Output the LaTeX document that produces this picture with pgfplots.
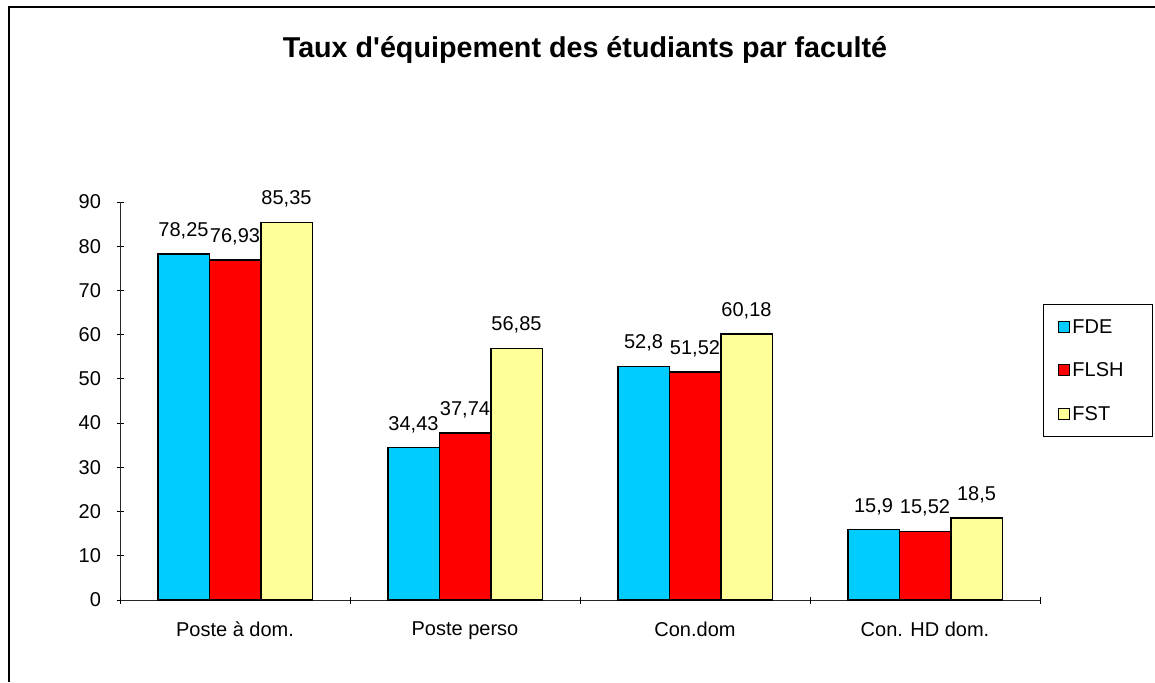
\documentclass[border=0pt]{standalone}
\usepackage{pgfplots}
\pgfplotsset{compat=1.18}
\usepackage{fontspec}
\setmainfont{Liberation Sans}
\definecolor{cFDE}{RGB}{0,204,255}
\definecolor{cFLSH}{RGB}{255,0,0}
\definecolor{cFST}{RGB}{255,255,153}
\newcommand{\lbl}{\fontsize{20}{23}\selectfont}
\begin{document}
\begin{tikzpicture}[x=1pt,y=1pt]
\path[use as bounding box] (0,0) rectangle (1155,682);
\draw[line width=1.5pt] (9,0) -- (9,675) -- (1155,675);
\node[font=\bfseries\fontsize{28.7}{32}\selectfont] at (585,632) {Taux d\textquotesingle équipement des étudiants par faculté};
\begin{axis}[
  at={(120pt,82pt)}, anchor=south west,
  scale only axis, width=920pt, height=398pt,
  ybar=0pt, bar width=51.5pt,
  xmin=-0.5, xmax=3.5, ymin=0, ymax=90,
  ytick={0,10,...,90},
  xtick={0,1,2,3},
  xticklabels={Poste à dom.,Poste perso,Con.dom,Con. HD dom.},
  extra x ticks={-0.5,0.5,1.5,2.5,3.5},
  extra x tick labels={},
  xtick style={draw=none},
  extra x tick style={xtick style={draw=black, line width=0.8pt}},
  ytick style={draw=black, line width=0.8pt},
  tick align=outside, major tick length=7pt,
  axis x line=bottom, axis y line=left,
  axis line style={-, line width=0.8pt, black!85},
  tick label style={font=\lbl},
  /pgf/number format/assume math mode=true,
  /pgf/number format/use comma,
  xticklabel style={yshift=-15pt},
  yticklabel style={xshift=-12pt},
  nodes near coords,
  every node near coord/.append style={font=\lbl, yshift=11pt},
  clip=false,
  legend style={at={(1.0033,0.7437)}, anchor=north west, draw=black, line width=0.8pt,
    font=\lbl, row sep=24pt, inner xsep=15pt, inner ysep=13pt,
    nodes={text width=63pt, inner xsep=2pt}},
  legend cell align=left,
  legend image code/.code={\draw[#1, line width=1pt] (0pt,-5.5pt) rectangle (11pt,5.5pt);},
]
\addplot[fill=cFDE, draw=black, line width=1.5pt] coordinates {(0,78.25) (1,34.43) (2,52.8) (3,15.9)};
\addplot[fill=cFLSH, draw=black, line width=1.5pt] coordinates {(0,76.93) (1,37.74) (2,51.52) (3,15.52)};
\addplot[fill=cFST, draw=black, line width=1.5pt] coordinates {(0,85.35) (1,56.85) (2,60.18) (3,18.5)};
\legend{FDE,FLSH,FST}
\end{axis}
\end{tikzpicture}
\end{document}
